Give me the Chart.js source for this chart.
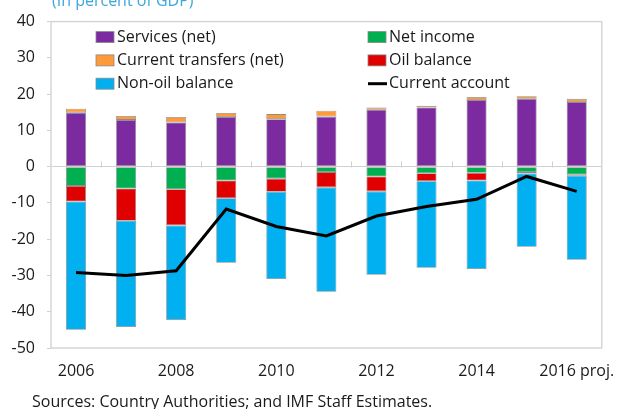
<!DOCTYPE html>
<html>
<head>
<meta charset="utf-8">
<script src="https://cdn.jsdelivr.net/npm/chart.js@4.4.0/dist/chart.umd.min.js"></script>
<style>
body { margin: 0; background: #fff; }
#wrap { position: relative; width: 629px; height: 409px; overflow: hidden; }
#title { position: absolute; left: 52px; top: -10px; font: 16px "Open Sans"; color: #3da6dd; white-space: nowrap; line-height: 20px; }
#source { position: absolute; left: 32px; top: 391px; font: 16px "Open Sans"; color: #1a1a1a; white-space: nowrap; line-height: 20px; }
</style>
</head>
<body>
<div id="wrap">
  <canvas id="chart" width="629" height="409"></canvas>
  <div id="title">(In percent of GDP)</div>
  <div id="source">Sources: Country Authorities; and IMF Staff Estimates.</div>
</div>
<script>
var years = ['2006', '2007', '2008', '2009', '2010', '2011', '2012', '2013', '2014', '2015', '2016 proj.'];
var services = [14.9, 12.9, 12.2, 13.7, 13.1, 13.8, 15.7, 16.3, 18.4, 18.7, 17.8];
var transfers = [1.1, 1.1, 1.5, 1.1, 1.4, 1.6, 0.6, 0.5, 0.8, 0.7, 0.9];
var netIncome = [-5.3, -6.0, -6.2, -3.8, -3.3, -1.5, -2.7, -1.8, -1.7, -1.5, -2.2];
var oilBalance = [-4.3, -8.9, -10.0, -4.9, -3.6, -4.2, -4.1, -2.2, -2.1, -0.4, -0.3];
var nonOil = [-35.4, -29.3, -26.1, -17.8, -24.1, -28.8, -23.0, -23.9, -24.4, -20.2, -23.2];
var currentAccount = [-29.2, -30.0, -28.7, -11.7, -16.5, -19.1, -13.6, -11.0, -9.0, -2.7, -6.8];
var yMin = -50, yMax = 40, yStep = 10;

// legend reading order (two columns): dataset indexes
var legendOrder = [0, 2, 1, 3, 4, 5];
var font = '"Open Sans", "Noto Sans", sans-serif';

function bar(label, data, color) {
  return {
    type: 'bar', label: label, data: data, backgroundColor: color,
    borderColor: '#8c8c8c', borderWidth: 0.8, borderSkipped: false,
    stack: 'bal', order: 1, barPercentage: 0.4, categoryPercentage: 1
  };
}

var framePlugin = {
  id: 'frame',
  beforeDatasetsDraw: function(chart) {
    var a = chart.chartArea, ctx = chart.ctx, x = chart.scales.x, y = chart.scales.y;
    var y0 = Math.round(y.getPixelForValue(0)) + 0.5;
    ctx.save();
    ctx.strokeStyle = '#d0d0d0';
    ctx.lineWidth = 1;
    for (var i = 1; i < years.length; i++) {
      var bx = Math.round((x.getPixelForValue(i - 1) + x.getPixelForValue(i)) / 2) + 0.5;
      ctx.beginPath();
      ctx.moveTo(bx, y0 - 6);
      ctx.lineTo(bx, y0);
      ctx.stroke();
    }
    ctx.lineWidth = 1.5;
    ctx.strokeStyle = '#d6d6d6';
    ctx.strokeRect(a.left, a.top, a.right - a.left, a.bottom - a.top);
    ctx.restore();
  },
  afterDraw: function(chart) {
    var a = chart.chartArea, ctx = chart.ctx;
    ctx.save();
    ctx.font = '16px ' + font;
    ctx.textBaseline = 'middle';
    ctx.fillStyle = '#1a1a1a';
    legendOrder.forEach(function(di, i) {
      var ds = chart.data.datasets[di];
      var lx = a.left + (i % 2 === 0 ? 45 : 317);
      var ly = a.top + 15.5 + Math.floor(i / 2) * 23.3;
      if (ds.type === 'line') {
        ctx.strokeStyle = ds.borderColor;
        ctx.lineWidth = 3;
        ctx.beginPath();
        ctx.moveTo(lx, ly);
        ctx.lineTo(lx + 19, ly);
        ctx.stroke();
      } else {
        ctx.fillStyle = ds.backgroundColor;
        ctx.fillRect(lx, ly - 5.5, 18, 11);
        ctx.strokeStyle = '#8a8a8a';
        ctx.lineWidth = 0.8;
        ctx.strokeRect(lx, ly - 5.5, 18, 11);
      }
      ctx.fillStyle = '#1a1a1a';
      ctx.fillText(ds.label, lx + 21, ly);
    });
    ctx.restore();
  }
};

new Chart(document.getElementById('chart'), {
  data: {
    labels: years,
    datasets: [
      bar('Services (net)', services, '#7b2a9f'),
      bar('Current transfers (net)', transfers, '#ff9a3a'),
      bar('Net income', netIncome, '#00b050'),
      bar('Oil balance', oilBalance, '#e00000'),
      bar('Non-oil balance', nonOil, '#00b0f0'),
      {
        type: 'line', label: 'Current account', data: currentAccount,
        borderColor: '#000', backgroundColor: '#000', borderWidth: 3,
        pointRadius: 0, tension: 0, stack: 'ca', order: 0
      }
    ]
  },
  options: {
    responsive: false,
    animation: false,
    layout: { padding: { left: 0, right: 18, top: 19, bottom: 0 } },
    plugins: { legend: { display: false }, tooltip: { enabled: false } },
    scales: {
      x: {
        stacked: true,
        grid: { display: false, drawTicks: false },
        border: { display: false },
        ticks: {
          autoSkip: false, maxRotation: 0, padding: 14,
          color: '#1a1a1a', font: { family: font, size: 16 },
          callback: function(v, i) { return i % 2 === 0 ? years[i] : ''; }
        },
        afterFit: function(s) { s.height = 61; }
      },
      y: {
        stacked: true,
        min: yMin, max: yMax,
        grid: {
          color: function(c) { return c.tick && c.tick.value === 0 ? '#d0d0d0' : 'rgba(0,0,0,0)'; },
          tickColor: '#d0d0d0', tickLength: 4, lineWidth: 1
        },
        border: { display: false },
        ticks: {
          stepSize: yStep, padding: 12,
          color: '#1a1a1a', font: { family: font, size: 16 }
        },
        afterFit: function(s) { s.width = 51; }
      }
    }
  },
  plugins: [framePlugin]
});
</script>
</body>
</html>
